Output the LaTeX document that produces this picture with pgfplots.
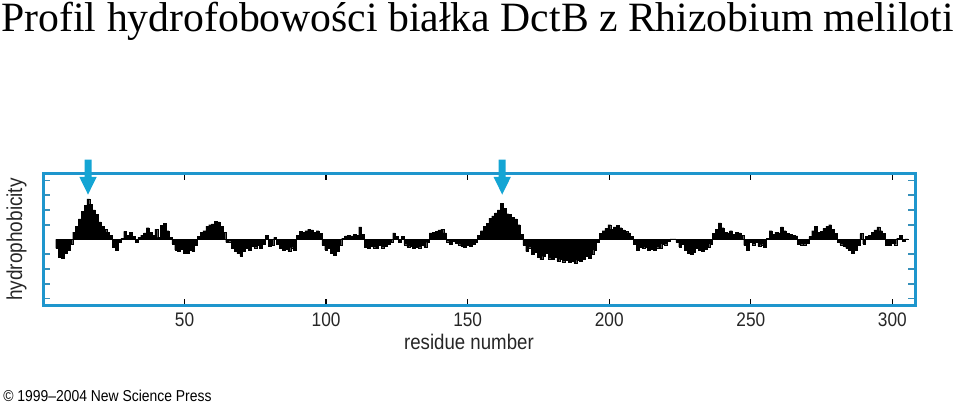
\documentclass[border=0pt]{standalone}
\usepackage{fontspec}
\setmainfont{Liberation Serif}
\newfontfamily\narrowsans[FakeStretch=0.88]{Liberation Sans}
\usepackage{pgfplots}
\usepackage{pgfplotstable}
\pgfplotsset{compat=1.18}
\definecolor{frameblue}{RGB}{30,150,205}
\definecolor{arrowblue}{RGB}{20,165,212}

\pgfplotstableread{
r v
5 -0.6
6 -1.2
7 -1.25
8 -0.95
9 -0.7
10 -0.3
11 0.5
12 0.9
13 1.4
14 1.9
15 2.3
16 2.75
17 2.4
18 2.0
19 1.7
20 1.2
21 0.9
22 0.7
23 0.5
24 0.3
25 -0.5
26 -0.7
27 -0.2
28 0.1
29 0.55
30 0.3
31 0.5
32 0.2
33 -0.2
34 0.15
35 0.3
36 0.45
37 0.8
38 0.5
39 0.3
40 0.7
41 0.15
42 0.95
43 1.1
44 0.6
45 0.15
46 -0.3
47 -0.7
48 -0.8
49 -0.65
50 -0.9
51 -0.95
52 -0.75
53 -0.8
54 -0.4
55 0.2
56 0.5
57 0.6
58 0.9
59 1.0
60 1.05
61 1.25
62 1.2
63 0.9
64 0.5
65 -0.2
66 -0.15
67 -0.6
68 -0.8
69 -0.95
70 -1.1
71 -0.8
72 -0.6
73 -0.7
74 -0.45
75 -0.55
76 -0.4
77 -0.6
78 -0.3
79 0.3
80 -0.45
81 -0.4
82 0.15
83 -0.3
84 -0.6
85 -0.7
86 -0.65
87 -0.8
88 -0.55
89 -0.75
90 0.3
91 0.55
92 0.5
93 0.6
94 0.7
95 0.65
96 0.5
97 0.6
98 0.4
99 -0.4
100 -0.7
101 -0.6
102 -0.9
103 -1.05
104 -0.8
105 -0.4
106 0.1
107 0.25
108 0.3
109 0.25
110 0.35
111 0.3
112 0.85
113 0.35
114 -0.5
115 -0.6
116 -0.45
117 -0.55
118 -0.6
119 -0.4
120 -0.55
121 -0.45
122 -0.3
123 -0.2
124 0.45
125 0.2
126 -0.2
127 0.2
128 -0.35
129 -0.5
130 -0.45
131 -0.6
132 -0.5
133 -0.55
134 -0.4
135 -0.5
136 -0.2
137 0.45
138 0.5
139 0.55
140 0.65
141 0.7
142 0.45
143 -0.15
144 -0.3
145 -0.1
146 -0.25
147 -0.35
148 -0.45
149 -0.5
150 -0.4
151 -0.45
152 -0.3
153 -0.2
154 0.3
155 0.6
156 0.9
157 1.1
158 1.45
159 1.6
160 1.8
161 2.0
162 2.45
163 2.1
164 1.75
165 1.7
166 1.5
167 1.4
168 1.0
169 0.35
170 -0.4
171 -0.8
172 -0.55
173 -1.0
174 -0.85
175 -1.2
176 -1.36
177 -1.15
178 -0.9
179 -1.3
180 -1.36
181 -1.2
182 -1.45
183 -1.35
184 -1.5
185 -1.4
186 -1.55
187 -1.45
188 -1.6
189 -1.4
190 -1.45
191 -1.35
192 -1.1
193 -1.25
194 -1.0
195 -0.7
196 -0.2
197 0.4
198 0.6
199 0.75
200 1.0
201 0.7
202 0.85
203 0.95
204 0.8
205 0.65
206 0.55
207 0.45
208 0.2
209 -0.3
210 -0.7
211 -0.5
212 -0.6
213 -0.5
214 -0.7
215 -0.65
216 -0.75
217 -0.55
218 -0.6
219 -0.3
220 -0.35
221 -0.1
222 0.05
223 0.05
224 -0.2
225 -0.5
226 -0.3
227 -0.7
228 -0.9
229 -1.0
230 -0.85
231 -0.6
232 -0.75
233 -0.8
234 -0.65
235 -0.5
236 -0.3
237 0.4
238 0.7
239 1.13
240 0.8
241 0.5
242 0.45
243 0.6
244 0.35
245 0.5
246 0.45
247 0.3
248 -0.4
249 -0.7
250 -0.2
251 -0.35
252 -0.2
253 -0.45
254 -0.35
255 -0.5
256 0.1
257 0.6
258 0.35
259 0.5
260 0.45
261 0.85
262 0.6
263 0.4
264 0.35
265 0.3
266 0.25
267 -0.3
268 -0.35
269 -0.35
270 -0.25
271 0.2
272 0.6
273 0.9
274 0.5
275 0.55
276 0.75
277 0.9
278 1.0
279 0.7
280 0.4
281 -0.2
282 -0.35
283 -0.45
284 -0.6
285 -0.7
286 -0.9
287 -0.75
288 -0.4
289 0.4
290 -0.3
291 0.2
292 0.3
293 0.5
294 0.65
295 0.86
296 0.6
297 0.4
298 -0.4
299 -0.4
300 -0.25
301 -0.35
302 0.1
303 0.3
304 -0.1
305 0.05
}\hydro

\begin{document}
\begin{tikzpicture}
\useasboundingbox (0,0) rectangle (480pt,202.5pt);
\node[anchor=base west, inner sep=0pt, text height=14.8pt, text depth=4.5pt,
  font=\fontsize{20.85}{22}\selectfont] at (0.6pt,186.8pt)
  {Profil hydrofobowości białka DctB z Rhizobium meliloti};
\node[anchor=west, inner sep=0pt, font=\narrowsans\fontsize{7.9}{9}\selectfont] at (1.5pt,4.5pt)
  {© 1999–2004 New Science Press};
\begin{axis}[
  at={(21.5pt,49.5pt)}, anchor=south west,
  width=436pt, height=66.5pt, scale only axis,
  xmin=0, xmax=308, ymin=-4.5, ymax=4.5,
  clip=false,
  axis line style={draw=frameblue, line width=1.5pt},
  xtick={50,100,150,200,250,300},
  ytick={-4,-3,-2,-1,1,2,3,4},
  yticklabels={},
  tick align=inside,
  major tick length=3.4pt,
  xtick style={black, line width=0.7pt},
  ytick style={frameblue!75!gray, line width=0.8pt},
  /pgf/number format/assume math mode=true,
  xticklabel style={font=\narrowsans\fontsize{9.8}{11}\selectfont, text=black!85},
  xlabel={residue number},
  xlabel style={font=\narrowsans\fontsize{10.6}{12}\selectfont, text=black!85,
    at={(axis description cs:0.4885,0)}, anchor=center, yshift=-17.75pt},
  ylabel={hydrophobicity},
  ylabel style={font=\narrowsans\fontsize{10.8}{12}\selectfont, text=black!85,
    at={(axis description cs:-0.0183,0.5)}, anchor=south, inner sep=0pt},
]
\addplot[ybar, bar width=1, fill=black, draw=black, line width=0.1pt] table[x=r, y=v] {\hydro};
\addplot[black, line width=0.8pt] coordinates {(4.5,0) (305.5,0)};
\fill[arrowblue] (axis cs:14.66,5.41) -- (axis cs:17.14,5.41) -- (axis cs:17.14,4.24)
  -- (axis cs:18.97,4.24) -- (axis cs:15.9,3.04) -- (axis cs:12.83,4.24)
  -- (axis cs:14.66,4.24) -- cycle;
\fill[arrowblue] (axis cs:160.96,5.41) -- (axis cs:163.44,5.41) -- (axis cs:163.44,4.24)
  -- (axis cs:165.27,4.24) -- (axis cs:162.2,3.04) -- (axis cs:159.13,4.24)
  -- (axis cs:160.96,4.24) -- cycle;
\end{axis}
\end{tikzpicture}
\end{document}
